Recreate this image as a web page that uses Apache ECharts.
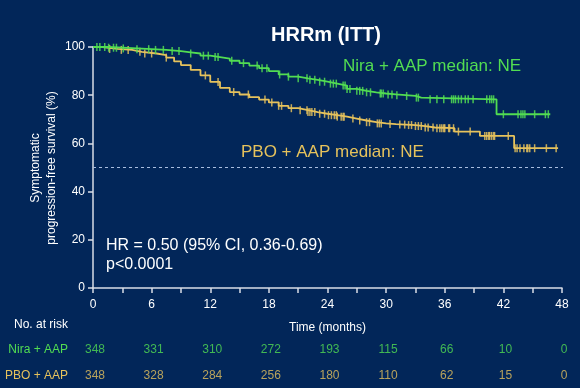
<!DOCTYPE html>
<html><head><meta charset="utf-8">
<script src="https://cdn.jsdelivr.net/npm/echarts@6/dist/echarts.min.js"></script>
<style>html,body{margin:0;padding:0;background:#022659;}#c{width:580px;height:388px;}</style>
</head><body><div id="c"></div>
<script>
// ---- Data ----
const titleText = 'HRRm (ITT)';
const niraName = 'Nira + AAP';
const pboName = 'PBO + AAP';
// Kaplan-Meier steps [month, % event-free]
const niraSteps = [[0,100],[1.5,99.7],[3,99.4],[4.5,99.1],[6,98.8],[7.5,98.3],[9,97.8],[10,97.3],[11,96.4],[12,95.8],[13,95.2],[14,94.3],[15,93.3],[16,92.3],[17,91.2],[18,90.0],[19,88.6],[20,87.7],[21,87.0],[22,86.4],[23,85.6],[24,84.8],[25,84.0],[26,82.6],[27,81.8],[28,81.2],[29,80.7],[30,80.3],[31,80.0],[32,79.7],[33,79.0],[33.6,78.3],[41.3,72.1],[46.8,72.1]];
const pboSteps = [[0,100],[1,99.2],[2.5,98.8],[4,98.0],[5,97.3],[6.5,96.6],[7.5,95.6],[8.3,94.0],[9,92.5],[10,90.5],[11,88.2],[12,85.5],[13,83.0],[14,81.3],[15,80.3],[16,79.2],[17,78.2],[18,77.0],[19,75.6],[20,74.6],[21,73.8],[22,73.0],[23,72.3],[24,71.7],[25,71.1],[26,70.3],[27,69.5],[28,68.8],[29,68.3],[30,68.0],[31,67.8],[32,67.6],[33,67.2],[34,66.6],[35,66.3],[37,64.9],[39.6,63.1],[43.1,58.0],[47.6,58.0]];
// censoring times (months)
const niraCensor = [0.4,0.7,1.2,1.6,2.1,2.4,3.1,4.5,5.7,6.4,7.2,8.1,8.8,10,11.3,11.8,12.5,12.8,14.2,15.4,16.8,17.3,17.8,19.1,20,21,21.9,22.2,22.7,23.2,23.7,24.3,24.6,24.9,25.6,25.8,26.0,26.3,27.0,27.3,27.6,28.0,28.4,29.4,29.5,29.7,30.2,30.6,31.1,32.1,33.1,33.3,34.5,35.2,35.9,36.7,36.9,37.1,37.4,37.7,38.1,38.4,38.9,40.3,40.6,40.8,41.0,42.0,43.5,43.8,44.0,44.2,45.2,46.3,46.6];
const pboCensor = [1.7,2.9,3.6,4.8,5.3,6.0,7.5,11.5,12.8,14.4,15.9,17.6,18.3,19.0,19.3,20.3,21.2,21.9,22.0,22.2,22.4,22.7,23.2,23.7,24.1,24.4,24.7,24.9,25.0,25.4,25.6,25.7,26.6,27.3,28.0,28.3,29.1,29.3,29.5,30.4,31.4,31.9,32.3,32.6,33.0,33.3,33.6,34.0,34.3,34.8,35.2,35.5,35.7,35.9,36.0,36.4,36.5,36.9,37.4,38.6,40.1,40.3,40.5,40.6,40.8,41.0,41.1,42.5,43.2,43.4,43.7,44.1,44.4,44.5,44.7,45.2,46.4,47.4];
// numbers at risk
const riskTimes = [0,6,12,18,24,30,36,42,48];
const niraRisk = [348,331,310,272,193,115,66,10,0];
const pboRisk = [348,328,284,256,180,110,62,15,0];
const refLine = [[0,50],[48.5,50]];
const niraMedianText = 'Nira + AAP median: NE';
const pboMedianText = 'PBO + AAP median: NE';
const hrText = 'HR = 0.50 (95% CI, 0.36-0.69)';
const pText = 'p<0.0001';
const yAxisTitle = 'Symptomatic\nprogression-free survival (%)';
const xAxisTitle = 'Time (months)';
const riskTitle = 'No. at risk';

// ---- Styling ----
const BG = '#022659';
const GREEN = '#52dd52';
const YELLOW = '#e6c25c';
const AXIS = '#d9dde6';
const FONT = 'Liberation Sans, Arial, sans-serif';

function survAt(steps, t){ let s = steps[0][1]; for (const p of steps) if (p[0] <= t) s = p[1]; return s; }

const chart = echarts.init(document.getElementById('c'), null, {renderer:'canvas'});
chart.setOption({
  backgroundColor: BG,
  animation: false,
  textStyle: {fontFamily: FONT},
  title: {text: titleText, left: 266, top: 20, textStyle: {color:'#ffffff', fontSize: 20, fontWeight:'bold', fontFamily: FONT}},
  grid: [
    {left: 93, right: 18, top: 47, bottom: 100},
    {left: 93, right: 18, top: 336.75, height: 53}
  ],
  xAxis: [
    {gridIndex:0, type:'value', min:0, max:48, interval:3,
     name: xAxisTitle, nameLocation:'middle', nameGap: 34,
     nameTextStyle:{color:'#ffffff', fontSize:12, fontFamily: FONT},
     axisLine:{lineStyle:{color:AXIS, width:1.5}},
     axisTick:{length:5, lineStyle:{color:AXIS, width:1.5}},
     axisLabel:{color:'#ffffff', fontSize:12, margin:11, formatter: v => (v % 6 === 0 ? String(v) : '')},
     splitLine:{show:false}},
    {gridIndex:1, type:'value', min:0, max:48, show:false}
  ],
  yAxis: [
    {gridIndex:0, type:'value', min:0, max:100, interval:20,
     axisLine:{show:true, lineStyle:{color:AXIS, width:1.5}},
     axisTick:{show:true, length:5, lineStyle:{color:AXIS, width:1.5}},
     axisLabel:{color:'#ffffff', fontSize:12, margin:8},
     splitLine:{show:false}},
    {gridIndex:1, type:'category', inverse:true, data:[niraName, pboName],
     axisLine:{show:false}, axisTick:{show:false},
     axisLabel:{fontSize:12, margin:25, color: (v, i) => (i === 0 ? GREEN : YELLOW)}}
  ],
  series: [
    {type:'line', data: refLine, showSymbol:false, symbol:'none', clip:false, silent:true,
     lineStyle:{color:'#a9bddf', type:[3,3], width:1}, z:1},
    {type:'line', name: pboName, step:'end', data: pboSteps, showSymbol:false, symbol:'none',
     lineStyle:{color:YELLOW, width:1.8}, z:2},
    {type:'line', name: niraName, step:'end', data: niraSteps, showSymbol:false, symbol:'none',
     lineStyle:{color:GREEN, width:1.8}, z:3},
    {type:'scatter', data: pboCensor.map(t => [t, survAt(pboSteps, t)]), symbol:'rect', symbolSize:[1.5,8],
     itemStyle:{color:YELLOW, opacity:0.85}, z:2, silent:true},
    {type:'scatter', data: niraCensor.map(t => [t, survAt(niraSteps, t)]), symbol:'rect', symbolSize:[1.5,8],
     itemStyle:{color:GREEN, opacity:0.85}, z:3, silent:true},
    {type:'scatter', xAxisIndex:1, yAxisIndex:1, symbolSize:0, silent:true,
     data: riskTimes.map((t,i) => [t, 0, niraRisk[i]]),
     label:{show:true, position:'inside', offset:[2,0], color:GREEN, fontSize:12, formatter: p => String(p.value[2])}},
    {type:'scatter', xAxisIndex:1, yAxisIndex:1, symbolSize:0, silent:true,
     data: riskTimes.map((t,i) => [t, 1, pboRisk[i]]),
     label:{show:true, position:'inside', offset:[2,0], color:YELLOW, fontSize:12, formatter: p => String(p.value[2])}}
  ],
  graphic: [
    {type:'text', x:44, y:168, rotation: Math.PI/2,
     style:{text: yAxisTitle, fill:'#ffffff', font: '12px ' + FONT, lineHeight:16, align:'center', verticalAlign:'middle'}},
    {type:'text', left:343, top:58, style:{text: niraMedianText, fill: GREEN, font: '17px ' + FONT}},
    {type:'text', left:241, top:144, style:{text: pboMedianText, fill: YELLOW, font: '17px ' + FONT}},
    {type:'text', left:106, top:238, style:{text: hrText, fill:'#ffffff', font: '16px ' + FONT}},
    {type:'text', left:106, top:257, style:{text: pText, fill:'#ffffff', font: '16px ' + FONT}},
    {type:'text', right:512, top:319, style:{text: riskTitle, fill:'#ffffff', font: '12px ' + FONT}}
  ]
});
</script></body></html>
